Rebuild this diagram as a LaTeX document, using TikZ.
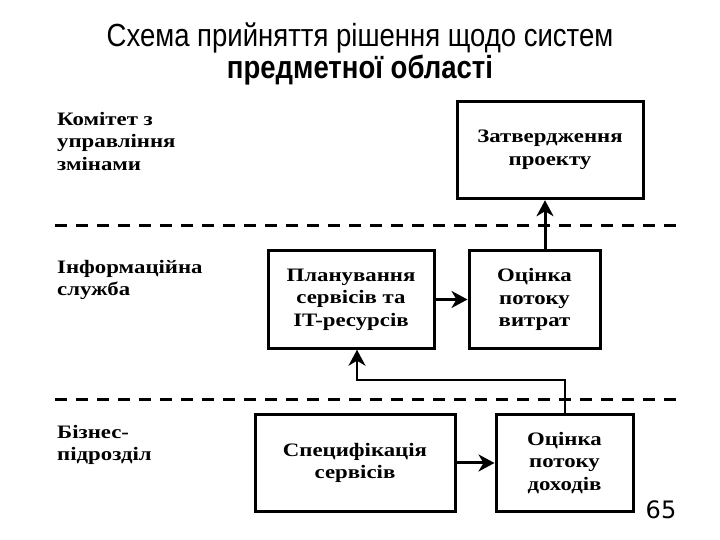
\documentclass[tikz,border=0pt]{standalone}
\usepackage{fontspec}
\setmainfont[FakeStretch=1.2]{Liberation Serif}
\newfontfamily\titlefont[FakeStretch=0.86]{Liberation Sans}
\newfontfamily\numfont{DejaVu Sans}
\usetikzlibrary{arrows.meta}
\usetikzlibrary{positioning}

\begin{document}
\begin{tikzpicture}[x=1pt,y=1pt,>={Stealth[length=16pt,width=17pt,inset=5pt]},
	blok/.style={draw,line width=3pt,minimum height=97.5pt,align=center,inner sep=2pt,font=\bfseries\fontsize{19}{22.5}\selectfont},
	pidpys/.style={anchor=north west,align=left,inner sep=0pt,font=\bfseries\fontsize{19}{22.5}\selectfont},
	smuha/.style={line width=3pt,dash pattern=on 12pt off 9pt},
	strilka/.style={->,line width=3pt},
	zvjazok/.style={->,line width=2pt}]

\useasboundingbox (0,0) rectangle (720,540);

\node[align=center,font=\titlefont\fontsize{32}{26}\selectfont] (nazva) at (360,486) {Схема прийняття рішення щодо систем\\ \bfseries предметної області};

\node[pidpys] 	(komitet) at (57,428) 	{Комітет з\\управління\\змінами};
\node[pidpys] 	(sluzhba) at (57,280) 	{Інформаційна\\служба};
\node[pidpys] 	(biznes)  at (57,115) 	{Бізнес-\\підрозділ};

\draw[smuha] (55,314.5) -- (679,314.5);
\draw[smuha] (55,140.5) -- (679,140.5);

\node[blok,minimum width=166pt] 	(plan) at (351,240.5) 	{Планування\\сервісів та\\IT-ресурсів};
\node[blok,minimum width=131pt] 	(vytr) [right of=plan,node distance=183.5pt] 	{Оцінка\\потоку\\витрат};
\node[blok,minimum width=186pt] 	(zatv) [above of=vytr,node distance=149.5pt,xshift=15.5pt] 	{Затвердження\\проекту};
\node[blok,minimum width=200pt] 	(spec) [below of=plan,node distance=163.5pt,xshift=4pt] 	{Специфікація\\сервісів};
\node[blok,minimum width=137pt] 	(dokh) [right of=spec,node distance=209.5pt] 	{Оцінка\\потоку\\доходів};

\node[font=\numfont\fontsize{24}{24}\selectfont] (nomer) at (661,30) {65};

\path[strilka] (plan) edge (vytr)
(spec) edge (dokh);

\draw[strilka] ([xshift=10.5pt]vytr.north) -- ([xshift=10.5pt]vytr.north |- zatv.south);
\draw[zvjazok] (dokh.north) -- ++(0,33) -| ([xshift=6pt]plan.south);

\end{tikzpicture}
\end{document}
